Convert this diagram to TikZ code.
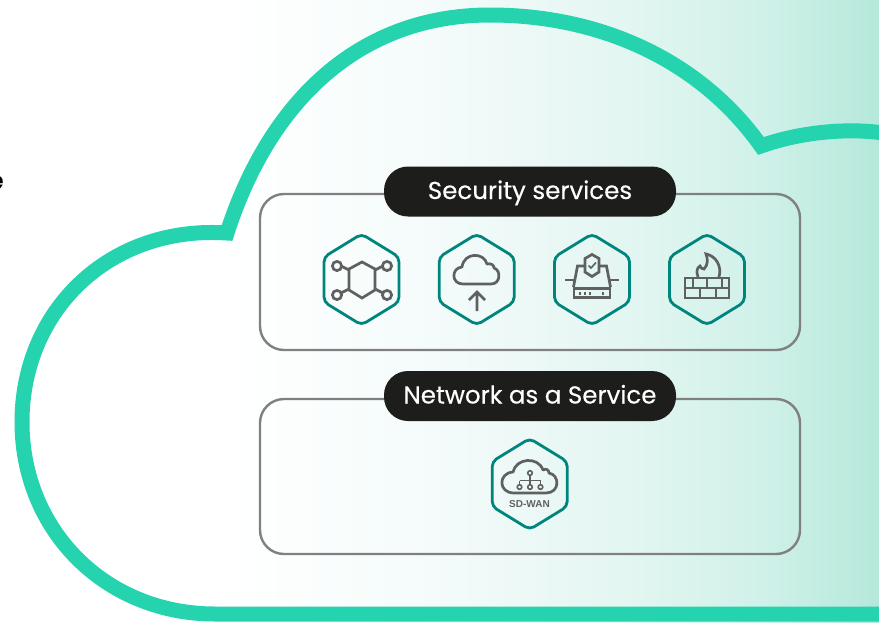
\documentclass[tikz,border=0pt]{standalone}
\usepackage{fontspec}
\setmainfont{Liberation Sans}
\newfontfamily\labelfont[FakeBold=0.4]{Poppins}
\definecolor{cloudc}{HTML}{25D4AE}
\definecolor{hexc}{HTML}{00857E}
\definecolor{icong}{HTML}{5F6060}
\definecolor{frameg}{HTML}{808080}
\definecolor{pillc}{HTML}{1D1D1B}
\definecolor{s0}{HTML}{FFFFFF}
\definecolor{s1}{HTML}{F3FBFA}
\definecolor{s2}{HTML}{E4F6F2}
\definecolor{s3}{HTML}{D0F1E9}
\definecolor{s4}{HTML}{B5E8DA}
\tikzset{
 x=1pt,y=-1pt,
 cloudline/.style={draw=cloudc,line width=15pt,miter limit=10},
 framebox/.style={draw=frameg,line width=2.4pt,rounded corners=24pt},
 pill/.style={fill=pillc,text=white,rounded corners=24pt,minimum width=292pt,minimum height=50pt,inner sep=0pt,text height=19.5pt,text depth=4.5pt,font=\fontsize{24.5}{25}\selectfont\labelfont},
 hexa/.style={draw=hexc,line width=2.8pt,line join=round},
 ico/.style={draw=icong,line width=2.7pt,line join=miter,line cap=butt},
 icothin/.style={draw=icong,line width=1.6pt},
}
\newcommand{\hexshape}[2]{\draw[hexa,rounded corners=5pt] (#1,#2-45.5)--(#1+37.5,#2-22.5)--(#1+37.5,#2+22.5)--(#1,#2+45.5)--(#1-37.5,#2+22.5)--(#1-37.5,#2-22.5)--cycle;}
\begin{document}
\begin{tikzpicture}
\useasboundingbox (0,0) rectangle (879,622);
\clip (0,0) rectangle (879,622);
% background gradient
\fill[s0] (0,0) rectangle (879,622);
\shade[left color=s0,right color=s1] (230,0) rectangle (450,622);
\shade[left color=s1,right color=s2] (450,0) rectangle (620,622);
\shade[left color=s2,right color=s3] (620,0) rectangle (760,622);
\shade[left color=s3,right color=s4] (760,0) rectangle (879,622);
% cloud
\draw[cloudline] (890,134) .. controls (850,127) and (800,132) .. (761,146)
 .. controls (700,60) and (600,15) .. (490,15)
 .. controls (360,15) and (270,100) .. (227,233)
 .. controls (110,225) and (22,310) .. (22,422)
 .. controls (22,530) and (105,614) .. (215,614)
 -- (890,614);
% text fragment
\node[font=\fontsize{25}{25}\selectfont\labelfont,text=black,inner sep=0pt,anchor=base east] (frag) at (4,189) {e};
% frames
\draw[framebox] (260,194) rectangle (800,350);
\draw[framebox] (260,399) rectangle (800,554);
\node[pill] (sec) at (530,191.5) {Security services};
\node[pill] (naas) at (530,396) {Network as a Service};
% hexagons
\hexshape{361.5}{279.5}
\hexshape{476.7}{279.5}
\hexshape{592}{279.5}
\hexshape{707}{279.5}
\hexshape{529.7}{484}
% icon 1: shield network
\draw[ico] (362,262)--(375,269)--(375,290)--(362,298)--(349,290)--(349,269)--cycle;
\draw[ico] (349,270)--(341,266) (375,270)--(383,266) (349,289)--(341,293) (375,289)--(383,293);
\foreach \a/\b in {337/266,387/266,337/295,387/295}{\draw[ico] (\a,\b) circle (4.6pt);}
% icon 2: cloud upload
\draw[ico,line join=round] (463,284) .. controls (451,284) and (451,268) .. (462,267)
 .. controls (464,252) and (484,252) .. (487,264)
 .. controls (491,263) and (494,265) .. (494,268)
 .. controls (501,270) and (501,284) .. (491,284) -- cycle;
\draw[ico] (477,311)--(477,292) (469,300)--(477,292)--(485,300);
% icon 3: shield over device
\draw[ico] (592,254.5)--(599,258.5)--(599,272)--(592,276.5)--(585,272)--(585,258.5)--cycle;
\draw[icothin] (588.5,265.5)--(591,268)--(596,262.5);
\draw[ico] (584,266)--(577.5,266)--(573.5,287) (600,266)--(606.5,266)--(610.5,287);
\draw[ico] (565,280)--(575,280) (609,280)--(619,280);
\draw[ico] (574,288.5) rectangle (610,297.5);
\foreach \a in {580,585,590,603}{\fill[icong] (\a-1.3,291.5) rectangle (\a+1.3,294.5);}
% icon 4: firewall
\draw[ico] (685,278) rectangle (729,298);
\draw[ico] (685,288)--(729,288);
\draw[ico] (693,278)--(693,288) (707,278)--(707,288) (722,278)--(722,288);
\draw[ico] (700,288)--(700,298) (716,288)--(716,298);
\draw[ico] (698,277) .. controls (696,271) and (697,268) .. (700,266)
 .. controls (701,268) and (702,269) .. (704,269)
 .. controls (708,265) and (708,259) .. (706,254)
 .. controls (716,256) and (722,266) .. (719,277);
% icon 5: SD-WAN
\draw[ico,line join=round] (514,493) .. controls (498,493) and (498,473) .. (513,472)
 .. controls (516,458) and (538,456) .. (543,470)
 .. controls (546,468) and (549,470) .. (549,473)
 .. controls (560,475) and (560,493) .. (546,493) -- cycle;
\draw[icothin] (530,473) circle (2.3pt);
\draw[icothin] (530,475.3)--(530,484.7) (519.5,480.5)--(540.5,480.5) (519.5,480.5)--(519.5,484.7) (540.5,480.5)--(540.5,484.7);
\foreach \a in {519.5,530,540.5}{\draw[icothin] (\a,487) circle (2.3pt);}
\node[inner sep=0pt,text=icong,font=\fontsize{10}{10}\selectfont\bfseries] (sdwan) at (529.5,504.5) {SD-WAN};
\end{tikzpicture}
\end{document}
